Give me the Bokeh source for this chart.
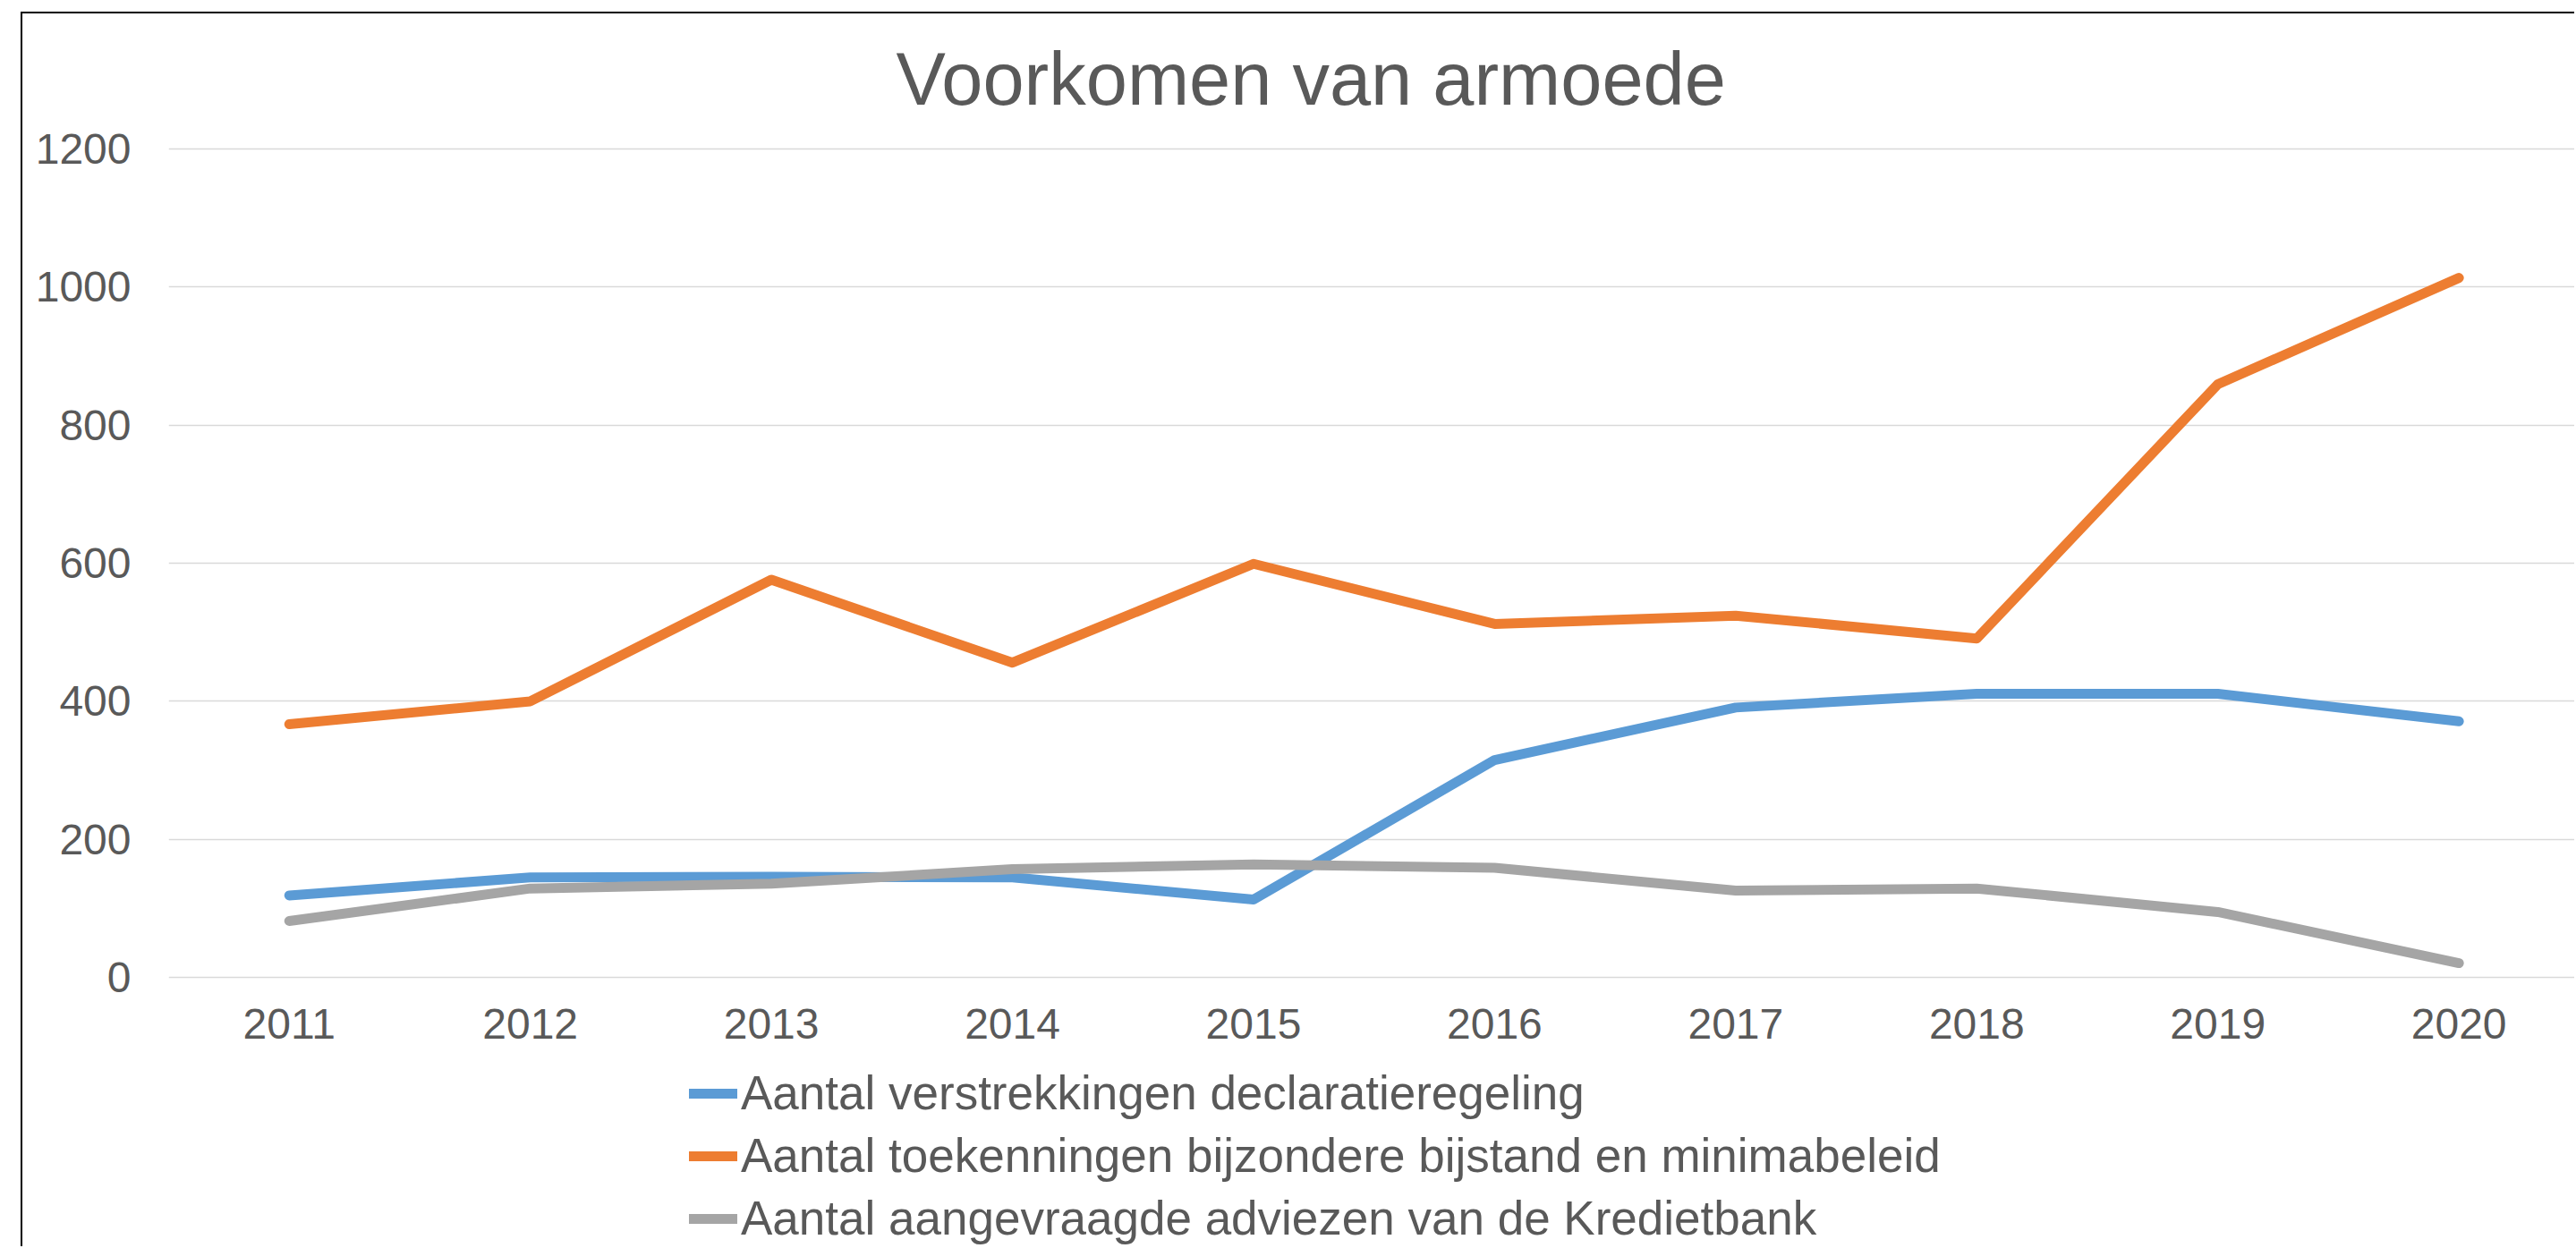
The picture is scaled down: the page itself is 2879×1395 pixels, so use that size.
from bokeh.plotting import figure
from bokeh.layouts import column
from bokeh.models import Range1d, FixedTicker, Legend, LegendItem, Title
from bokeh.embed import file_html
from bokeh.resources import INLINE

# ---- data ----
years = [2011, 2012, 2013, 2014, 2015, 2016, 2017, 2018, 2019, 2020]
verstrekkingen = [119, 145, 146, 145, 113, 315, 391, 411, 411, 371]
toekenningen = [367, 400, 576, 456, 599, 512, 524, 491, 859, 1013]
adviezen = [82, 129, 136, 157, 164, 159, 126, 129, 95, 21]
y_ticks = [0, 200, 400, 600, 800, 1000, 1200]
series_names = [
    "Aantal verstrekkingen declaratieregeling",
    "Aantal toekenningen bijzondere bijstand en minimabeleid",
    "Aantal aangevraagde adviezen van de Kredietbank",
]
title_text = "Voorkomen van armoede"

FONT = "Liberation Sans"
TXT = "#595959"
colors = ["#5B9BD5", "#ED7D31", "#A5A5A5"]
series = [verstrekkingen, toekenningen, adviezen]

W = 2852
LEFT = 163

# ---- main chart ----
p = figure(
    width=W, height=1175,
    x_range=Range1d(2010.5, 2020.48), y_range=Range1d(-10, 1210),
    output_backend="svg", toolbar_location=None,
    min_border_left=LEFT, min_border_right=0, min_border_top=143, min_border_bottom=90,
)
p.outline_line_color = None
p.background_fill_color = "white"
p.border_fill_color = "white"

p.title = Title(text=title_text, align="left", text_font=FONT, text_font_size="83px",
                text_color=TXT, text_font_style="normal",
                standoff=47, offset=813)

p.xgrid.grid_line_color = None
p.ygrid.grid_line_color = "#D9D9D9"
p.ygrid.grid_line_width = 1.5

p.xaxis.ticker = FixedTicker(ticks=years)
p.yaxis.ticker = FixedTicker(ticks=y_ticks)
for ax in (p.xaxis, p.yaxis):
    ax.axis_line_color = None
    ax.major_tick_line_color = None
    ax.minor_tick_line_color = None
    ax.major_tick_in = 0
    ax.major_tick_out = 0
    ax.major_label_text_font = FONT
    ax.major_label_text_font_size = "48px"
    ax.major_label_text_color = TXT
p.yaxis.major_label_standoff = 42
p.xaxis.major_label_standoff = 27

for vals, col in zip(series, colors):
    p.line(years, vals, line_color=col, line_width=11, line_cap="round", line_join="round")

# ---- legend strip below the chart ----
lg = figure(
    width=W, height=203,
    x_range=Range1d(0, 1), y_range=Range1d(0, 1),
    x_axis_type=None, y_axis_type=None,
    output_backend="svg", toolbar_location=None,
    min_border_left=LEFT, min_border_right=0, min_border_top=0, min_border_bottom=0,
)
lg.outline_line_color = None
lg.grid.grid_line_color = None
lg.border_fill_color = "white"

lg_renderers = []
for vals, col in zip(series, colors):
    r = lg.line(years, vals, line_color=col, line_width=11, line_cap="round", line_join="round")
    lg_renderers.append(r)

legend = Legend(
    items=[LegendItem(label=n, renderers=[r]) for n, r in zip(series_names, lg_renderers)],
    location=(582, 1),
    orientation="vertical",
    label_text_font=FONT, label_text_font_size="53px", label_text_color=TXT,
    glyph_width=54, glyph_height=40, label_height=40, label_standoff=4,
    spacing=9, padding=0, margin=0,
    border_line_color=None, background_fill_alpha=0,
)
lg.add_layout(legend, "center")

page = column(p, lg, spacing=0)
page.styles = {"border-left": "2px solid #000000", "border-top": "2px solid #000000",
               "margin-left": "23px", "margin-top": "13px"}

open("out.html", "w").write(file_html(page, INLINE))
